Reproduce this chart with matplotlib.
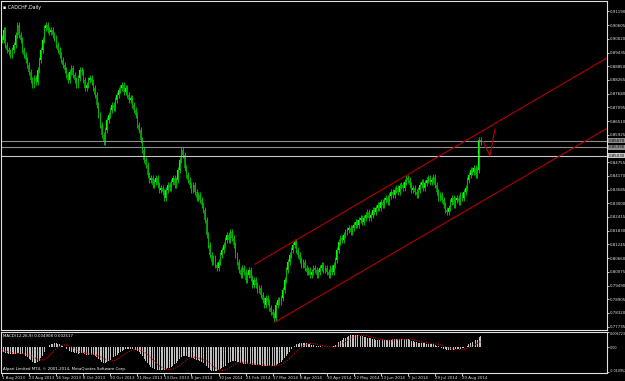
import matplotlib
matplotlib.use("Agg")
import matplotlib.pyplot as plt
import numpy as np

# ---------------- data ----------------
symbol_title = "CADCHF,Daily"
macd_title = "MACD(12,26,9) 0.004908 0.002517"
copyright_text = "Alpari Limited MT4, \u00a9 2001-2014, MetaQuotes Software Corp."

closes = [
    0.8997, 0.9040, 0.8976, 0.8955, 0.8946, 0.8933, 0.8955, 0.8976, 0.9019, 0.9061,
    0.9019, 0.8997, 0.8955, 0.8933, 0.8912, 0.8891, 0.8861, 0.8827, 0.8805, 0.8835,
    0.8818, 0.8869, 0.8912, 0.8955, 0.8997, 0.9049, 0.9061, 0.9040, 0.9031, 0.9040,
    0.9019, 0.9006, 0.8976, 0.8955, 0.8933, 0.8912, 0.8891, 0.8869, 0.8848, 0.8827,
    0.8861, 0.8878, 0.8848, 0.8827, 0.8805, 0.8835, 0.8869, 0.8861, 0.8827, 0.8792,
    0.8805, 0.8827, 0.8835, 0.8818, 0.8792, 0.8763, 0.8720, 0.8677, 0.8634, 0.8592,
    0.8562, 0.8613, 0.8656, 0.8677, 0.8698, 0.8720, 0.8707, 0.8741, 0.8763, 0.8784,
    0.8792, 0.8805, 0.8775, 0.8792, 0.8763, 0.8741, 0.8750, 0.8720, 0.8698, 0.8677,
    0.8634, 0.8613, 0.8570, 0.8528, 0.8485, 0.8464, 0.8421, 0.8400, 0.8408, 0.8378,
    0.8391, 0.8408, 0.8378, 0.8357, 0.8365, 0.8348, 0.8323, 0.8357, 0.8378, 0.8365,
    0.8391, 0.8408, 0.8378, 0.8400, 0.8442, 0.8485, 0.8528, 0.8506, 0.8451, 0.8421,
    0.8400, 0.8378, 0.8357, 0.8378, 0.8348, 0.8323, 0.8336, 0.8314, 0.8293, 0.8271,
    0.8229, 0.8165, 0.8122, 0.8079, 0.8049, 0.8066, 0.8036, 0.8024, 0.8049, 0.8079,
    0.8101, 0.8122, 0.8143, 0.8165, 0.8143, 0.8177, 0.8152, 0.8122, 0.8079, 0.8049,
    0.8015, 0.7994, 0.8024, 0.8007, 0.7973, 0.7994, 0.8015, 0.7981, 0.7951, 0.7973,
    0.7951, 0.7930, 0.7938, 0.7909, 0.7887, 0.7866, 0.7896, 0.7879, 0.7853, 0.7836,
    0.7823, 0.7810, 0.7866, 0.7887, 0.7879, 0.7896, 0.7930, 0.7973, 0.8015, 0.8049,
    0.8079, 0.8101, 0.8122, 0.8135, 0.8101, 0.8079, 0.8058, 0.8036, 0.8049, 0.8024,
    0.8007, 0.8015, 0.7994, 0.8007, 0.8024, 0.8015, 0.7994, 0.8007, 0.8024, 0.8036,
    0.8015, 0.8024, 0.8007, 0.7994, 0.8024, 0.8007, 0.8036, 0.8058, 0.8101, 0.8135,
    0.8152, 0.8143, 0.8165, 0.8177, 0.8186, 0.8195, 0.8177, 0.8195, 0.8207, 0.8220,
    0.8207, 0.8229, 0.8237, 0.8220, 0.8237, 0.8250, 0.8263, 0.8237, 0.8250, 0.8271,
    0.8263, 0.8280, 0.8293, 0.8280, 0.8305, 0.8293, 0.8314, 0.8323, 0.8305, 0.8331,
    0.8348, 0.8336, 0.8357, 0.8365, 0.8348, 0.8374, 0.8378, 0.8365, 0.8391, 0.8408,
    0.8400, 0.8378, 0.8357, 0.8365, 0.8348, 0.8336, 0.8357, 0.8378, 0.8391, 0.8365,
    0.8387, 0.8400, 0.8408, 0.8391, 0.8400, 0.8412, 0.8378, 0.8348, 0.8323, 0.8336,
    0.8314, 0.8293, 0.8271, 0.8263, 0.8280, 0.8305, 0.8323, 0.8293, 0.8314, 0.8323,
    0.8305, 0.8336, 0.8323, 0.8348, 0.8365, 0.8400, 0.8421, 0.8442, 0.8434, 0.8451,
    0.8421, 0.8442, 0.8570, 0.8562,
]

macd_milli = [
    -2.0, -2.2, -2.4, -2.6, -2.8, -3.0, -3.0, -2.9, -2.8, -2.5,
    -2.6, -2.8, -3.0, -3.3, -3.8, -4.3, -5.0, -5.6, -6.2, -6.6,
    -6.8, -6.5, -5.8, -4.8, -3.6, -2.2, -0.9, 0.2, 0.9, 1.4,
    1.7, 1.8, 1.8, 1.6, 1.3, 0.9, 0.5, 0.0, -0.5, -1.0,
    -1.4, -1.8, -2.0, -2.3, -2.6, -2.7, -2.6, -2.5, -2.6, -2.9,
    -3.1, -3.2, -3.2, -3.3, -3.5, -3.9, -4.4, -5.0, -5.6, -6.2,
    -6.6, -6.6, -6.3, -5.9, -5.4, -4.9, -4.4, -3.8, -3.2, -2.6,
    -2.0, -1.5, -1.1, -0.8, -0.6, -0.5, -0.5, -0.6, -0.8, -1.1,
    -1.6, -2.2, -3.0, -3.9, -4.9, -5.9, -6.9, -7.8, -8.5, -9.1,
    -9.5, -9.7, -9.8, -9.9, -10.0, -10.0, -9.9, -9.6, -9.2, -8.8,
    -8.4, -7.9, -7.4, -6.8, -6.0, -5.0, -4.2, -3.8, -3.7, -3.8,
    -4.0, -4.3, -4.6, -4.8, -5.0, -5.3, -5.6, -5.9, -6.3, -6.8,
    -7.5, -8.3, -9.1, -9.7, -10.1, -10.3, -10.4, -10.3, -10.0, -9.6,
    -9.1, -8.6, -8.0, -7.4, -6.9, -6.4, -6.1, -6.0, -6.1, -6.3,
    -6.5, -6.8, -7.0, -7.1, -7.2, -7.3, -7.3, -7.4, -7.5, -7.6,
    -7.6, -7.7, -7.7, -7.8, -7.9, -8.0, -8.0, -8.0, -8.0, -8.0,
    -8.0, -7.9, -7.6, -7.2, -6.8, -6.3, -5.6, -4.8, -3.9, -2.9,
    -1.9, -0.9, 0.0, 0.8, 1.3, 1.7, 1.9, 2.0, 2.0, 1.9,
    1.8, 1.6, 1.4, 1.2, 1.0, 0.8, 0.6, 0.5, 0.4, 0.3,
    0.2, 0.2, 0.1, 0.1, 0.2, 0.3, 0.6, 1.1, 1.7, 2.3,
    2.9, 3.4, 3.9, 4.3, 4.7, 5.0, 5.2, 5.4, 5.5, 5.5,
    5.4, 5.3, 5.1, 4.9, 4.7, 4.5, 4.3, 4.1, 3.9, 3.7,
    3.5, 3.4, 3.3, 3.2, 3.2, 3.2, 3.2, 3.3, 3.3, 3.3,
    3.4, 3.5, 3.5, 3.5, 3.5, 3.5, 3.5, 3.5, 3.5, 3.6,
    3.5, 3.3, 3.0, 2.7, 2.5, 2.3, 2.1, 2.0, 2.0, 1.9,
    1.8, 1.7, 1.7, 1.7, 1.6, 1.5, 1.2, 0.8, 0.4, 0.0,
    -0.3, -0.6, -0.9, -1.1, -1.1, -1.0, -1.0, -1.0, -0.9, -0.9,
    -0.8, -0.6, -0.4, -0.1, 0.3, 0.8, 1.4, 2.0, 2.4, 2.8,
    3.1, 3.3, 4.4, 4.9,
]

signal_milli = [
    -1.5, -1.6, -1.7, -1.8, -2.0, -2.1, -2.3, -2.4, -2.5, -2.6,
    -2.6, -2.7, -2.7, -2.8, -2.9, -3.1, -3.3, -3.6, -4.0, -4.4,
    -4.8, -5.1, -5.4, -5.5, -5.5, -5.3, -4.9, -4.3, -3.6, -2.8,
    -2.0, -1.3, -0.6, -0.1, 0.4, 0.8, 1.0, 1.1, 1.1, 0.9,
    0.6, 0.2, -0.2, -0.6, -1.0, -1.4, -1.7, -2.0, -2.2, -2.4,
    -2.5, -2.7, -2.8, -2.9, -3.0, -3.2, -3.4, -3.7, -4.0, -4.4,
    -4.8, -5.2, -5.5, -5.7, -5.9, -5.9, -5.8, -5.6, -5.2, -4.8,
    -4.3, -3.8, -3.3, -2.8, -2.3, -1.9, -1.5, -1.2, -1.0, -0.9,
    -0.9, -1.0, -1.3, -1.6, -2.0, -2.5, -3.1, -3.8, -4.5, -5.3,
    -6.0, -6.7, -7.4, -8.0, -8.5, -8.9, -9.3, -9.5, -9.6, -9.6,
    -9.6, -9.4, -9.2, -8.9, -8.5, -8.0, -7.4, -6.8, -6.2, -5.6,
    -5.1, -4.7, -4.4, -4.3, -4.3, -4.4, -4.6, -4.8, -5.0, -5.3,
    -5.6, -6.0, -6.5, -7.1, -7.7, -8.3, -8.9, -9.3, -9.7, -9.9,
    -10.0, -10.0, -9.8, -9.5, -9.1, -8.6, -8.1, -7.6, -7.2, -6.8,
    -6.6, -6.5, -6.5, -6.6, -6.7, -6.9, -7.0, -7.1, -7.2, -7.3,
    -7.4, -7.5, -7.6, -7.6, -7.7, -7.7, -7.8, -7.9, -7.9, -8.0,
    -8.0, -8.0, -7.9, -7.8, -7.6, -7.4, -7.1, -6.7, -6.2, -5.6,
    -4.9, -4.2, -3.4, -2.6, -1.8, -1.1, -0.5, 0.1, 0.6, 1.0,
    1.3, 1.6, 1.7, 1.8, 1.7, 1.6, 1.4, 1.2, 1.0, 0.8,
    0.6, 0.5, 0.4, 0.3, 0.3, 0.3, 0.3, 0.4, 0.6, 0.9,
    1.2, 1.6, 2.0, 2.5, 3.0, 3.5, 3.9, 4.3, 4.6, 4.9,
    5.1, 5.2, 5.3, 5.3, 5.2, 5.1, 5.0, 4.8, 4.6, 4.4,
    4.2, 4.0, 3.8, 3.7, 3.5, 3.4, 3.3, 3.3, 3.2, 3.2,
    3.2, 3.3, 3.3, 3.3, 3.4, 3.4, 3.4, 3.5, 3.5, 3.5,
    3.5, 3.5, 3.4, 3.3, 3.2, 3.0, 2.8, 2.6, 2.4, 2.2,
    2.1, 2.0, 1.9, 1.8, 1.8, 1.7, 1.6, 1.5, 1.4, 1.2,
    1.0, 0.7, 0.4, 0.1, -0.2, -0.4, -0.6, -0.8, -0.9, -1.0,
    -1.0, -0.9, -0.8, -0.7, -0.6, -0.4, -0.1, 0.2, 0.5, 0.9,
    1.3, 1.7, 2.1, 2.5,
]

price_ticks = [0.91190, 0.90605, 0.90020, 0.89435, 0.88850, 0.88265, 0.87680,
               0.87095, 0.86510, 0.85925, 0.84755, 0.84170, 0.83585,
               0.83000, 0.82415, 0.81830, 0.81245, 0.80660, 0.80075, 0.79490,
               0.78905, 0.78320, 0.77735]

hlines = [0.85670, 0.85390, 0.85030]
hline_colors = ["#8c8c8c", "#8c8c8c", "#c8c8c8"]

upper_channel_bars = [149.5, 360.0]
upper_channel_prices = [0.8040, 0.8931]
lower_channel_bars = [161.3, 360.0]
lower_channel_prices = [0.7792, 0.8630]
projection_bars = [284.5, 288.4, 291.4]
projection_prices = [0.8563, 0.8502, 0.8617]

macd_ticks = [0.006723, 0.0, -0.010952]
macd_tick_labels = ["0.006723", "0.00", "-0.010952"]

date_labels = ["1 Aug 2013", "23 Aug 2013", "16 Sep 2013", "8 Oct 2013", "30 Oct 2013",
               "21 Nov 2013", "13 Dec 2013", "8 Jan 2014", "30 Jan 2014", "21 Feb 2014",
               "17 Mar 2014", "8 Apr 2014", "30 Apr 2014", "22 May 2014", "13 Jun 2014",
               "7 Jul 2014", "29 Jul 2014", "20 Aug 2014"]
bars_per_label = 16

# ---------------- figure ----------------
W, H = 625, 381
plt.rcParams["font.family"] = ["DejaVu Sans"]
plt.rcParams["font.stretch"] = "condensed"
fig = plt.figure(figsize=(W / 100, H / 100), dpi=100, facecolor="black")

def px_axes(left, top, right, bottom):
    return fig.add_axes([left / W, 1 - bottom / H, (right - left) / W, (bottom - top) / H])

ax = px_axes(1, 1, 607, 330)
axm = px_axes(1, 332, 607, 372.5)

FG = "#e0e0e0"
FS = 3.2
TXT = dict(fontsize=FS, fontstretch="condensed", family="DejaVu Sans")

for a in (ax, axm):
    a.set_facecolor("black")
    for s in a.spines.values():
        s.set_color(FG)
        s.set_linewidth(0.8)
    a.set_xlim(-0.6, 357.6)

# ---------------- candles ----------------
c = np.array(closes)
o = np.concatenate([[c[0] + 0.0010], c[:-1]])
hi = np.maximum(o, c) + 0.0013
lo = np.minimum(o, c) - 0.0013
x = np.arange(len(c))
ax.vlines(x, lo, hi, color="#00b400", lw=0.7)
up = c >= o
body_h = np.maximum(np.abs(c - o), 0.0003)
ax.bar(x[up], body_h[up], bottom=np.minimum(o, c)[up], width=0.75, color="#00ff00", lw=0)
ax.bar(x[~up], body_h[~up], bottom=np.minimum(o, c)[~up], width=0.75, color="#008c00", lw=0)

ax.set_ylim(0.77590, 0.91638)

# horizontal lines
for v, col in zip(hlines, hline_colors):
    ax.axhline(v, color=col, lw=0.8)

# channel lines
ax.plot(upper_channel_bars, upper_channel_prices, color="#b40000", lw=0.8)
ax.plot(lower_channel_bars, lower_channel_prices, color="#b40000", lw=0.8)
ax.plot(projection_bars, projection_prices, color="#b40000", lw=0.8)

# right axis
ax.yaxis.tick_right()
ax.set_yticks(price_ticks)
ax.set_yticklabels([f"{v:.5f}" for v in price_ticks], **TXT)
ax.tick_params(axis="y", colors=FG, length=1.5, width=0.6, pad=0.6)
ax.set_xticks([])

for v, col in zip(hlines, hline_colors):
    ax.annotate(f"{v:.5f}", xy=(1.0, v), xycoords=("axes fraction", "data"),
                xytext=(1.5, 0), textcoords="offset pixels", color="black",
                va="center", ha="left", **TXT,
                bbox=dict(boxstyle="square,pad=0.12", fc=col, ec="none"))

ax.text(0.004, 0.988, "\u25aa " + symbol_title, transform=ax.transAxes,
        color="white", va="top", ha="left", fontsize=FS + 0.6,
        fontstretch="condensed", family="DejaVu Sans")

# ---------------- MACD ----------------
m = np.array(macd_milli) / 1000.0
sgl = np.array(signal_milli) / 1000.0
axm.bar(x, m, width=0.55, color="#c0c0c0", lw=0)
axm.plot(x, sgl, color="#e00000", lw=0.8, ls=(0, (1, 1.2)))
axm.set_ylim(-0.010952, 0.006723)
axm.yaxis.tick_right()
axm.set_yticks(macd_ticks)
axm.set_yticklabels(macd_tick_labels, fontsize=2.7, fontstretch="condensed",
                    family="DejaVu Sans")
axm.tick_params(axis="y", colors=FG, length=1.5, width=0.6, pad=0.3)
ylabs = axm.get_yticklabels()
ylabs[0].set_va("top")
ylabs[-1].set_va("bottom")
axm.text(0.004, 0.96, macd_title, transform=axm.transAxes,
         color="white", va="top", ha="left", **TXT)
axm.text(0.004, 0.03, copyright_text, transform=axm.transAxes,
         color="white", va="bottom", ha="left", **TXT)

axm.set_xticks(np.arange(len(date_labels)) * bars_per_label)
axm.set_xticklabels(date_labels, ha="left", **TXT)
axm.tick_params(axis="x", colors=FG, length=2, width=0.6, pad=0.5)

fig.savefig("out.png", dpi=100, facecolor="black")
